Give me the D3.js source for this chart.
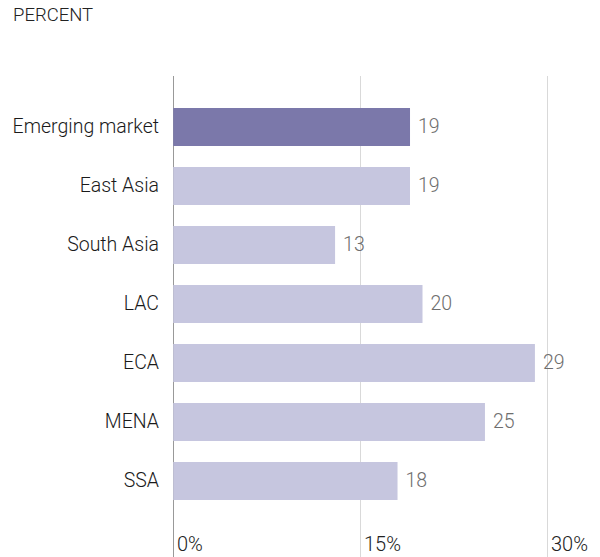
<!DOCTYPE html>
<html><head><meta charset="utf-8">
<script src="https://cdn.jsdelivr.net/npm/d3@7"></script>
<style>body{margin:0;background:#fff}svg{display:block}text{font-family:Roboto,"Open Sans",sans-serif;font-weight:300}</style>
</head><body><svg id="c" width="600" height="557"></svg>
<script>
const categories = ["Emerging market","East Asia","South Asia","LAC","ECA","MENA","SSA"];
const values = [19,19,13,20,29,25,18];
const highlight = ["Emerging market"];
const tickValues = [0,15,30];
const tickLabels = ["0%","15%","30%"];
const unitLabel = "PERCENT";

const svg = d3.select("#c");
const x = d3.scaleLinear().domain([0,30]).range([172.7,547.4]);
const y = d3.scaleBand().domain(categories).range([97.5,510.5]).paddingInner(0.356).paddingOuter(0.178);

svg.append("text").attr("x",13).attr("y",21).attr("font-size",18.5).attr("fill","#222").text(unitLabel);

const grid = svg.append("g");
grid.selectAll("line").data(tickValues).join("line")
  .attr("x1",d=>Math.round(x(d))+0.5).attr("x2",d=>Math.round(x(d))+0.5)
  .attr("y1",76).attr("y2",557)
  .attr("stroke",d=>d===0?"#999":"#d9d9d9").attr("stroke-width",1);

svg.append("g").selectAll("rect").data(categories).join("rect")
  .attr("x",x(0)+0.5).attr("y",d=>y(d)).attr("height",y.bandwidth())
  .attr("width",(d,i)=>x(values[i])-x(0)-0.5)
  .attr("fill",d=>highlight.includes(d)?"#7b78aa":"#c6c6df");

svg.append("g").selectAll("text").data(categories).join("text")
  .attr("x",159).attr("y",d=>y(d)+y.bandwidth()/2).attr("dy","0.3em")
  .attr("text-anchor","end").attr("font-size",19.5).attr("fill","#1a1a1a").text(d=>d);

svg.append("g").selectAll("text").data(categories).join("text")
  .attr("x",(d,i)=>x(values[i])+8).attr("y",d=>y(d)+y.bandwidth()/2).attr("dy","0.33em")
  .attr("font-size",19.5).attr("fill","#6e6e6e").text((d,i)=>values[i]);

svg.append("g").selectAll("text").data(tickValues).join("text")
  .attr("x",d=>Math.round(x(d))+4).attr("y",551)
  .attr("font-size",20).attr("fill","#222").text((d,i)=>tickLabels[i]);
</script></body></html>
